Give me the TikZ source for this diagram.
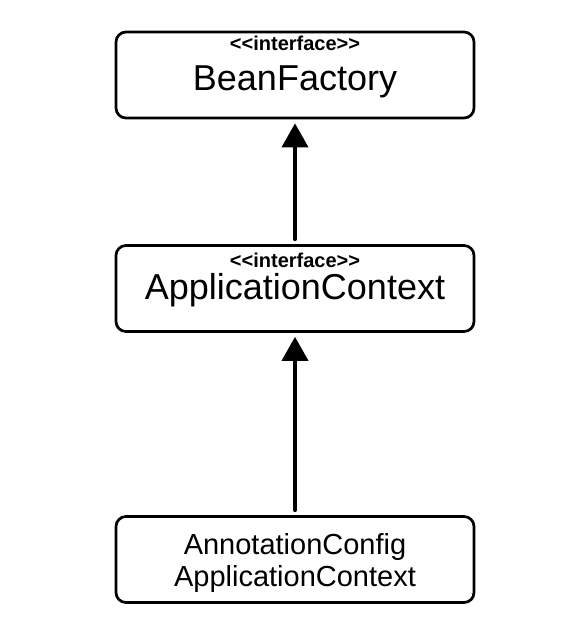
\documentclass[tikz,border=0pt]{standalone}
\usepackage{fontspec}
\setmainfont{Liberation Sans}
\usepackage{tikz}
\usetikzlibrary{positioning, arrows.meta}
\tikzset{
  classbox/.style={draw, line width=2.7pt, rounded corners=10pt, minimum width=358pt, minimum height=86pt, inner sep=0pt},
  stereo/.style={anchor=base, inner sep=0pt, font=\fontsize{20}{22}\selectfont\bfseries},
  classname/.style={anchor=base, inner sep=0pt, font=\fontsize{36}{40}\selectfont},
  implname/.style={anchor=base, inner sep=0pt, font=\fontsize{29}{32}\selectfont},
  extends/.style={line width=3.8pt, line cap=round, -{Triangle[width=26pt,length=24pt]}, shorten <=5pt, shorten >=4pt}
}

\begin{document}
\begin{tikzpicture}[x=1pt,y=-1pt]
\useasboundingbox (0,0) rectangle (576,638);
% boxes
\node[classbox] (beanfactory) at (295,75) {};
\node[classbox] (appctx) at (295,288.5) {};
\node[classbox] (annoctx) at (295,559.5) {};
% labels
\node[stereo] (bf-st) at ([yshift=-20pt]beanfactory.north) {<{}<interface>{}>};
\node[classname] (bf-name) at ([yshift=-60pt]beanfactory.north) {BeanFactory};
\node[stereo] (ac-st) at ([yshift=-23pt]appctx.north) {<{}<interface>{}>};
\node[classname] (ac-name) at ([yshift=-55pt]appctx.north) {ApplicationContext};
\node[implname] (an-l1) at ([yshift=-39pt]annoctx.north) {AnnotationConfig};
\node[implname] (an-l2) at ([yshift=-71pt]annoctx.north) {ApplicationContext};
% inheritance
\draw[extends] (appctx.north) -- (beanfactory.south);
\draw[extends] (annoctx.north) -- (appctx.south);
\end{tikzpicture}
\end{document}
